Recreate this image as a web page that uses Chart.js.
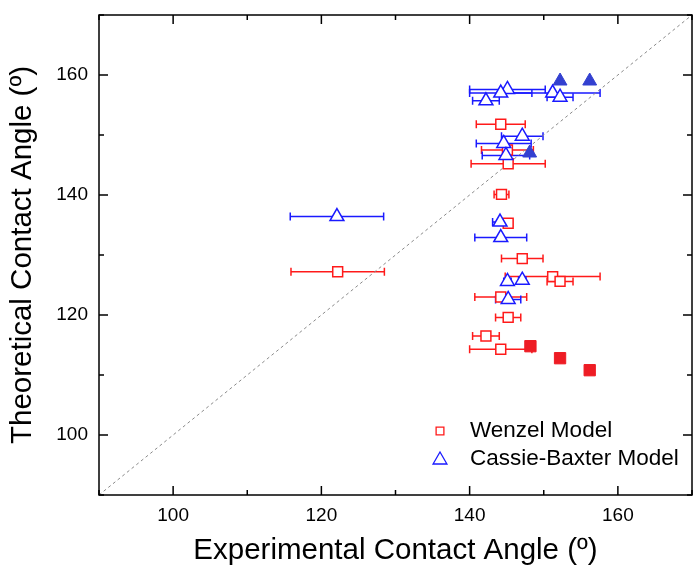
<!DOCTYPE html>
<html>
<head>
<meta charset="utf-8">
<script src="https://cdn.jsdelivr.net/npm/chart.js@4.4.0/dist/chart.umd.min.js"></script>
<style>
  html, body { margin: 0; padding: 0; background: #fff; }
</style>
</head>
<body>
<canvas id="c" width="693" height="568"></canvas>
<script>
/***** 데이터 *****/
const AXIS_MIN = 90, AXIS_MAX = 170, TICK_STEP = 10, LABEL_STEP = 20;
const DIAGONAL = [90, 170]; // y = x 기준선

// Wenzel (빈 사각형) : 실험값 x, 이론값 y, x 오차
const wenzelX   = [144.2, 145.1, 145.2, 144.3, 145.2, 147.1, 151.2, 152.2, 144.2, 145.2, 142.2, 144.2, 122.2];
const wenzelY   = [151.8, 147.5, 145.2, 140.1, 135.3, 129.4, 126.4, 125.6, 123.0, 119.6, 116.5, 114.3, 127.2];
const wenzelErr = [3.3, 3.5, 5.0, 1.0, 0.6, 2.8, 6.4, 1.75, 3.5, 1.7, 1.8, 4.2, 6.3];
// Wenzel (채운 사각형)
const wenzelFillX = [148.2, 152.2, 156.2];
const wenzelFillY = [114.8, 112.8, 110.8];

// Cassie-Baxter (빈 삼각형)
const cassieX   = [145.1, 144.2, 142.2, 151.2, 152.2, 147.1, 144.6, 144.9, 144.1, 144.2, 145.1, 147.1, 145.2, 122.1];
const cassieY   = [157.6, 157.0, 155.7, 157.0, 156.3, 149.8, 148.6, 146.6, 135.5, 132.9, 125.6, 125.8, 122.6, 136.4];
const cassieErr = [5.1, 4.2, 1.8, 6.4, 1.75, 2.8, 3.7, 3.2, 1.0, 3.5, 0.5, 0.5, 1.7, 6.3];
// Cassie-Baxter (채운 삼각형)
const cassieFillX = [152.2, 156.2, 148.1];
const cassieFillY = [159.0, 159.0, 147.0];

const RED = "#ff1a1a", BLUE = "#1a1aff", FILL_RED = "#ee1c24", FILL_BLUE = "#3340d0";
const FONT = "Arial, 'Liberation Sans', sans-serif";

/***** 유틸 *****/
const pts = (xs, ys) => xs.map((x, i) => ({ x, y: ys[i] }));

/***** 플러그인: 오차막대 *****/
const errorBars = {
  id: "errorBars",
  beforeDatasetsDraw(chart){
    const { ctx, scales: { x, y } } = chart;
    const sets = [
      { xs: wenzelX, ys: wenzelY, err: wenzelErr, color: RED },
      { xs: cassieX, ys: cassieY, err: cassieErr, color: BLUE }
    ];
    ctx.save();
    ctx.lineWidth = 1.5;
    sets.forEach(s => {
      ctx.strokeStyle = s.color;
      s.xs.forEach((v, i) => {
        const x0 = x.getPixelForValue(v - s.err[i]);
        const x1 = x.getPixelForValue(v + s.err[i]);
        const py = y.getPixelForValue(s.ys[i]);
        ctx.beginPath();
        ctx.moveTo(x0, py); ctx.lineTo(x1, py);
        ctx.moveTo(x0, py - 4); ctx.lineTo(x0, py + 4);
        ctx.moveTo(x1, py - 4); ctx.lineTo(x1, py + 4);
        ctx.stroke();
      });
    });
    ctx.restore();
  }
};

/***** 플러그인: 테두리 + 안쪽 눈금 *****/
const frame = {
  id: "frame",
  afterDraw(chart){
    const { ctx, chartArea: a, scales: { x, y } } = chart;
    ctx.save();
    ctx.strokeStyle = "#000";
    ctx.lineWidth = 1.5;
    ctx.strokeRect(a.left, a.top, a.right - a.left, a.bottom - a.top);
    ctx.beginPath();
    x.ticks.forEach(t => {
      const p = x.getPixelForValue(t.value);
      const len = t.value % LABEL_STEP === 0 ? 9 : 5;
      ctx.moveTo(p, a.bottom); ctx.lineTo(p, a.bottom - len);
      ctx.moveTo(p, a.top); ctx.lineTo(p, a.top + len);
    });
    y.ticks.forEach(t => {
      const p = y.getPixelForValue(t.value);
      const len = t.value % LABEL_STEP === 0 ? 9 : 5;
      ctx.moveTo(a.left, p); ctx.lineTo(a.left + len, p);
      ctx.moveTo(a.right, p); ctx.lineTo(a.right - len, p);
    });
    ctx.stroke();
    ctx.restore();
  }
};

/***** 플러그인: 범례(그림 안쪽) *****/
const innerLegend = {
  id: "innerLegend",
  afterDraw(chart){
    const { ctx } = chart;
    const items = [
      { text: "Wenzel Model", style: "rect", r: 5.5, color: RED, y: 431 },
      { text: "Cassie-Baxter Model", style: "triangle", r: 8, color: BLUE, y: 459 }
    ];
    ctx.save();
    items.forEach(it => {
      ctx.fillStyle = "#fff";
      ctx.strokeStyle = it.color;
      ctx.lineWidth = 1.3;
      Chart.helpers.drawPoint(ctx, { pointStyle: it.style, radius: it.r, rotation: 0, borderWidth: 1.3 }, 440, it.y + (it.style === "triangle" ? 1 : 0));
      ctx.fillStyle = "#000";
      ctx.font = `22.5px ${FONT}`;
      ctx.textBaseline = "middle";
      ctx.textAlign = "left";
      ctx.fillText(it.text, 470, it.y);
    });
    ctx.restore();
  }
};

/***** 차트 *****/
function axis(titleText, isX){
  return {
    type: "linear",
    min: AXIS_MIN,
    max: AXIS_MAX,
    grid: { display: false },
    border: { display: false },
    ticks: {
      stepSize: TICK_STEP,
      autoSkip: false,
      maxRotation: 0,
      padding: isX ? 1 : 3,
      color: "#000",
      font: { family: FONT, size: 19 },
      callback: v => (v % LABEL_STEP === 0 && v > AXIS_MIN && v < AXIS_MAX) ? v : ""
    },
    title: {
      display: true,
      text: titleText,
      color: "#000",
      font: { family: FONT, size: 29.5, lineHeight: 1 },
      padding: isX ? { top: 0, bottom: 2.5 } : { top: 8.5, bottom: 0 }
    },
    afterFit(s){
      if (isX) s.height = 73; else s.width = 99;
      s.paddingTop = s.paddingBottom = s.paddingLeft = s.paddingRight = 0;
    }
  };
}

function init(){
  const ctx = document.getElementById("c").getContext("2d");
  new Chart(ctx, {
    type: "scatter",
    data: {
      datasets: [
        {
          label: "Wenzel Model",
          data: pts(wenzelX, wenzelY),
          pointStyle: "rect", pointRadius: 7, pointHoverRadius: 7,
          borderColor: RED, backgroundColor: "#fff", borderWidth: 1.5,
          order: 2
        },
        {
          label: "Wenzel filled",
          data: pts(wenzelFillX, wenzelFillY),
          pointStyle: "rect", pointRadius: 8, pointHoverRadius: 8,
          borderColor: FILL_RED, backgroundColor: FILL_RED, borderWidth: 1,
          order: 2
        },
        {
          label: "Cassie-Baxter Model",
          data: pts(cassieX, cassieY),
          pointStyle: "triangle", pointRadius: 8, pointHoverRadius: 8,
          borderColor: BLUE, backgroundColor: "#fff", borderWidth: 1.5,
          order: 1
        },
        {
          label: "Cassie-Baxter filled",
          data: pts(cassieFillX, cassieFillY),
          pointStyle: "triangle", pointRadius: 8, pointHoverRadius: 8,
          borderColor: FILL_BLUE, backgroundColor: FILL_BLUE, borderWidth: 1,
          order: 1
        },
        {
          type: "line",
          label: "y = x",
          data: pts(DIAGONAL, DIAGONAL),
          borderColor: "#8a8a8a", borderWidth: 1, borderDash: [3, 3],
          pointRadius: 0, fill: false,
          order: 3
        }
      ]
    },
    options: {
      responsive: false,
      animation: false,
      devicePixelRatio: 1,
      layout: { autoPadding: false, padding: { top: 15, right: 1, left: 0, bottom: 0 } },
      scales: {
        x: axis("Experimental Contact Angle (º)", true),
        y: axis("Theoretical Contact Angle (º)", false)
      },
      plugins: {
        legend: { display: false },
        tooltip: { enabled: false }
      }
    },
    plugins: [errorBars, frame, innerLegend]
  });
}
document.addEventListener("DOMContentLoaded", init);
</script>
</body>
</html>
